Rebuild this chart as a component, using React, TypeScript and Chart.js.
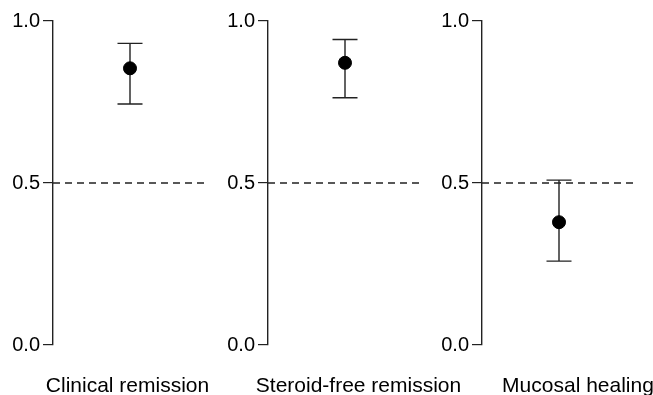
import React, { useEffect, useRef } from "react";
import { Chart, registerables } from "chart.js";

Chart.register(...registerables);

const categories = ["Clinical remission", "Steroid-free remission", "Mucosal healing"];
const estimates = [0.854, 0.871, 0.379];
const lowerCI = [0.744, 0.763, 0.259];
const upperCI = [0.931, 0.943, 0.509];
const yTicks = [0, 0.5, 1];
const referenceLine = 0.5;

const FONT = "'Liberation Sans', Arial, Helvetica, sans-serif";
const PANEL_LEFT = [0, 215, 429];
const LABEL_OFFSET = [-2.5, 13.5, 19];
const CANVAS_W = 262;
const CANVAS_H = 395;

const errorBarPlugin = {
  id: "errorBars",
  beforeDatasetsDraw(chart: any) {
    const idx = chart.options.plugins.errorBars.index;
    const xs = chart.scales.x;
    const ys = chart.scales.y;
    const ctx = chart.ctx;
    const x = xs.getPixelForValue(0.5);
    const yl = ys.getPixelForValue(lowerCI[idx]);
    const yu = ys.getPixelForValue(upperCI[idx]);
    const half = 12.5;
    ctx.save();
    ctx.strokeStyle = "#222";
    ctx.lineWidth = 1.4;
    ctx.beginPath();
    ctx.moveTo(x, yl);
    ctx.lineTo(x, yu);
    ctx.moveTo(x - half, yl);
    ctx.lineTo(x + half, yl);
    ctx.moveTo(x - half, yu);
    ctx.lineTo(x + half, yu);
    ctx.stroke();
    ctx.restore();
  },
};

function Panel({ index }: { index: number }) {
  const ref = useRef<HTMLCanvasElement>(null);
  useEffect(() => {
    if (!ref.current) return;
    const chart = new Chart(ref.current, {
      type: "scatter",
      data: {
        datasets: [
          {
            type: "line",
            data: [
              { x: 0, y: referenceLine },
              { x: 1, y: referenceLine },
            ],
            borderColor: "#222",
            borderWidth: 1.3,
            borderDash: [7, 5],
            pointRadius: 0,
            fill: false,
          } as any,
          {
            data: [{ x: 0.5, y: estimates[index] }],
            backgroundColor: "#000",
            borderColor: "#000",
            pointRadius: 6.5,
            showLine: false,
          },
        ],
      },
      options: {
        animation: false,
        responsive: false,
        devicePixelRatio: 1,
        layout: { padding: { top: 21, right: CANVAS_W - 207, left: 0, bottom: 0 } },
        plugins: {
          legend: { display: false },
          tooltip: { enabled: false },
          errorBars: { index },
        } as any,
        scales: {
          x: {
            type: "linear",
            min: 0,
            max: 1,
            afterBuildTicks: (s: any) => {
              s.ticks = [{ value: 0.5 }];
            },
            afterFit: (s: any) => {
              s.height = 50;
              s.paddingLeft = 0;
              s.paddingRight = 0;
            },
            grid: { display: false, drawTicks: false },
            border: { display: false },
            ticks: {
              callback: () => categories[index],
              color: "#000",
              font: { family: FONT, size: 21 },
              padding: 29,
              labelOffset: LABEL_OFFSET[index],
              maxRotation: 0,
            },
          },
          y: {
            type: "linear",
            min: 0,
            max: 1,
            afterBuildTicks: (s: any) => {
              s.ticks = yTicks.map((v) => ({ value: v }));
            },
            afterFit: (s: any) => {
              s.width = 53;
            },
            grid: {
              drawOnChartArea: false,
              drawTicks: true,
              tickLength: 10,
              color: "#222",
              lineWidth: 1.2,
            },
            border: { display: true, color: "#222", width: 1.4 },
            ticks: {
              callback: (v: any) => Number(v).toFixed(1),
              color: "#000",
              font: { family: FONT, size: 20 },
              padding: 3,
            },
          },
        },
      },
      plugins: [errorBarPlugin],
    });
    return () => chart.destroy();
  }, [index]);
  return (
    <canvas
      ref={ref}
      width={CANVAS_W}
      height={CANVAS_H}
      style={{
        position: "absolute",
        left: PANEL_LEFT[index],
        top: 0,
        width: CANVAS_W,
        height: CANVAS_H,
      }}
    />
  );
}

export default function App() {
  return (
    <div
      style={{
        position: "absolute",
        left: 0,
        top: 0,
        width: 653,
        height: 395,
        background: "#fff",
        overflow: "hidden",
      }}
    >
      {categories.map((_, i) => (
        <Panel key={i} index={i} />
      ))}
    </div>
  );
}
